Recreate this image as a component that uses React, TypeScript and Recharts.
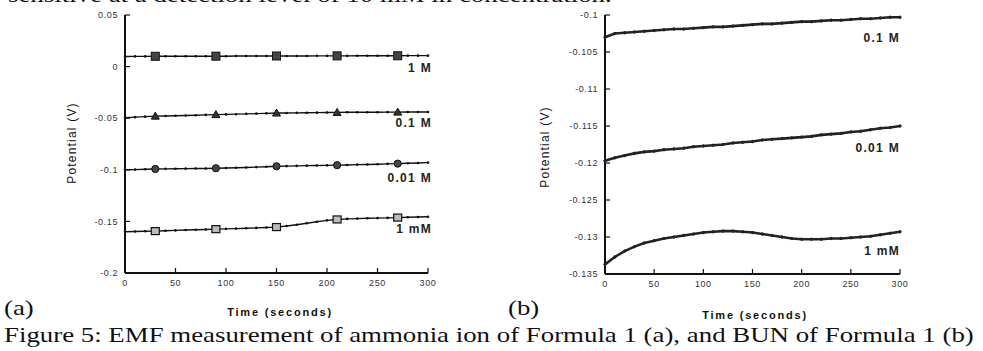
import { LineChart, Line, XAxis, YAxis, LabelList } from 'recharts';

// sample times (seconds), shared by every trace
const times = [0, 10, 20, 30, 40, 50, 60, 70, 80, 90, 100, 110, 120, 130, 140, 150, 160, 170, 180, 190, 200, 210, 220, 230, 240, 250, 260, 270, 280, 290, 300];
const majorTimes = [30, 90, 150, 210, 270];
const xTicks = [0, 50, 100, 150, 200, 250, 300];

// (a) ammonia ion
const aTicks = [0.05, 0, -0.05, -0.1, -0.15, -0.2];
const a1M = [0.0098, 0.0099, 0.0099, 0.01, 0.01, 0.01, 0.01, 0.0101, 0.0101, 0.0101, 0.0101, 0.0102, 0.0102, 0.0102, 0.0102, 0.0103, 0.0103, 0.0103, 0.0103, 0.0104, 0.0104, 0.0104, 0.0104, 0.0105, 0.0105, 0.0105, 0.0105, 0.0105, 0.0106, 0.0106, 0.0106];
const a01M = [-0.0495, -0.049, -0.0485, -0.048, -0.0478, -0.0476, -0.0474, -0.0471, -0.0468, -0.0465, -0.0463, -0.0461, -0.0458, -0.0456, -0.0453, -0.045, -0.0449, -0.0448, -0.0447, -0.0446, -0.0445, -0.0444, -0.0443, -0.0443, -0.0442, -0.0442, -0.0441, -0.0441, -0.044, -0.044, -0.044];
const a001M = [-0.1, -0.0998, -0.0995, -0.0992, -0.0991, -0.099, -0.0989, -0.0988, -0.0987, -0.0985, -0.0983, -0.098, -0.0977, -0.0974, -0.097, -0.0966, -0.0964, -0.0962, -0.096, -0.0958, -0.0957, -0.0955, -0.0953, -0.095, -0.0948, -0.0946, -0.0943, -0.094, -0.0937, -0.0934, -0.093];
const a1mM = [-0.16, -0.1598, -0.1596, -0.1594, -0.159, -0.1587, -0.1584, -0.1581, -0.1578, -0.1575, -0.1572, -0.157, -0.1567, -0.1563, -0.1559, -0.1555, -0.1545, -0.1532, -0.1518, -0.1503, -0.149, -0.1481, -0.1476, -0.1473, -0.147, -0.1468, -0.1466, -0.1463, -0.146, -0.1457, -0.1455];

// (b) BUN
const bTicks = [-0.1, -0.105, -0.11, -0.115, -0.12, -0.125, -0.13, -0.135];
const b01M = [-0.103, -0.1025, -0.1024, -0.1023, -0.1022, -0.1021, -0.102, -0.1019, -0.1019, -0.1018, -0.1017, -0.1016, -0.1016, -0.1015, -0.1014, -0.1013, -0.1012, -0.1012, -0.1011, -0.101, -0.1009, -0.1009, -0.1008, -0.1007, -0.1007, -0.1006, -0.1005, -0.1005, -0.1004, -0.1003, -0.1003];
const b001M = [-0.1197, -0.1193, -0.119, -0.1187, -0.1185, -0.1184, -0.1182, -0.1181, -0.118, -0.1178, -0.1177, -0.1176, -0.1175, -0.1173, -0.1172, -0.1171, -0.1169, -0.1168, -0.1167, -0.1166, -0.1165, -0.1164, -0.1162, -0.1161, -0.116, -0.1158, -0.1157, -0.1155, -0.1153, -0.1152, -0.115];
const b1mM = [-0.1337, -0.1327, -0.1319, -0.1313, -0.1308, -0.1305, -0.1302, -0.13, -0.1298, -0.1296, -0.1294, -0.1293, -0.1292, -0.1292, -0.1293, -0.1294, -0.1296, -0.1298, -0.13, -0.1302, -0.1303, -0.1303, -0.1303, -0.1302, -0.1302, -0.1301, -0.13, -0.1299, -0.1297, -0.1295, -0.1293];

const dataA = times.map((t, i) => ({ t, m1: a1M[i], m01: a01M[i], m001: a001M[i], mm1: a1mM[i] }));
const dataB = times.map((t, i) => ({ t, m01: b01M[i], m001: b001M[i], mm1: b1mM[i] }));

const sans = '"Liberation Sans", Arial, sans-serif';
const serif = '"Liberation Serif", "Times New Roman", serif';
const ink = '#111';
const tickStyle = { fill: '#333', fontSize: 9, fontFamily: sans, letterSpacing: 0.6 };

function makeDot(shape: string) {
  return (p: any) => {
    const { cx, cy, index, payload } = p;
    if (cx == null || cy == null) return null;
    const key = `d-${shape}-${index}`;
    if (!majorTimes.includes(payload.t)) {
      return <circle key={key} cx={cx} cy={cy} r={1.3} fill={ink} />;
    }
    if (shape === 'square') {
      return <rect key={key} x={cx - 4} y={cy - 4} width={8} height={8} fill="#444" stroke={ink} strokeWidth={1} />;
    }
    if (shape === 'triangle') {
      return <polygon key={key} points={`${cx},${cy - 4} ${cx - 4},${cy + 3} ${cx + 4},${cy + 3}`} fill="#333" stroke={ink} />;
    }
    if (shape === 'circle') {
      return <circle key={key} cx={cx} cy={cy} r={3.6} fill="#444" stroke={ink} />;
    }
    return <rect key={key} x={cx - 4} y={cy - 3.5} width={8} height={7} fill="#bbb" stroke={ink} strokeWidth={1.2} />;
  };
}

function endLabel(name: string, last: number, dy: number, dx: number) {
  return (p: any) => {
    if (p.index !== last) return null;
    const x = p.x ?? p.viewBox?.x;
    const y = p.y ?? p.viewBox?.y;
    if (x == null || y == null) return null;
    return (
      <text key={`lbl-${name}`} x={x + dx} y={y + dy} textAnchor="end" dominantBaseline="middle"
        fontFamily={sans} fontSize={12} fontWeight="bold" letterSpacing={1.3} fill="#222">
        {name}
      </text>
    );
  };
}

const lastIdx = times.length - 1;

function ChartA() {
  return (
    <LineChart width={450} height={300} data={dataA} margin={{ top: 15, right: 22, bottom: 7, left: 65 }}>
      <XAxis dataKey="t" type="number" domain={[0, 300]} ticks={xTicks} height={20}
        tick={tickStyle} tickSize={-5} tickMargin={12}
        axisLine={{ stroke: ink, strokeWidth: 2 }} tickLine={{ stroke: ink, strokeWidth: 1.2 }} />
      <YAxis type="number" domain={[-0.2, 0.05]} ticks={aTicks} width={60} allowDataOverflow
        tick={tickStyle} tickSize={-5} tickMargin={12}
        axisLine={{ stroke: ink, strokeWidth: 2 }} tickLine={{ stroke: ink, strokeWidth: 1.2 }} />
      <Line dataKey="m1" stroke={ink} strokeWidth={1.4} dot={makeDot('square')} isAnimationActive={false}>
        <LabelList content={endLabel('1 M', lastIdx, 13, 4)} />
      </Line>
      <Line dataKey="m01" stroke={ink} strokeWidth={1.4} dot={makeDot('triangle')} isAnimationActive={false}>
        <LabelList content={endLabel('0.1 M', lastIdx, 12, 4)} />
      </Line>
      <Line dataKey="m001" stroke={ink} strokeWidth={1.4} dot={makeDot('circle')} isAnimationActive={false}>
        <LabelList content={endLabel('0.01 M', lastIdx, 16, 4)} />
      </Line>
      <Line dataKey="mm1" stroke={ink} strokeWidth={1.4} dot={makeDot('open')} isAnimationActive={false}>
        <LabelList content={endLabel('1 mM', lastIdx, 13, 4)} />
      </Line>
    </LineChart>
  );
}

function ChartB() {
  const traceDot = { r: 1.2, fill: '#222', stroke: '#222', strokeWidth: 1 };
  return (
    <LineChart width={440} height={300} data={dataB} margin={{ top: 15, right: 20, bottom: 6, left: 65 }}>
      <XAxis dataKey="t" type="number" domain={[0, 300]} ticks={xTicks} height={20}
        tick={tickStyle} tickSize={-5} tickMargin={12}
        axisLine={{ stroke: ink, strokeWidth: 2 }} tickLine={{ stroke: ink, strokeWidth: 1.2 }} />
      <YAxis type="number" domain={[-0.135, -0.1]} ticks={bTicks} width={60} allowDataOverflow
        tick={tickStyle} tickSize={-5} tickMargin={12}
        axisLine={{ stroke: ink, strokeWidth: 2 }} tickLine={{ stroke: ink, strokeWidth: 1.2 }} />
      <Line dataKey="m01" stroke="#222" strokeWidth={2.6} dot={traceDot} isAnimationActive={false}>
        <LabelList content={endLabel('0.1 M', lastIdx, 22, 0)} />
      </Line>
      <Line dataKey="m001" stroke="#222" strokeWidth={2.6} dot={traceDot} isAnimationActive={false}>
        <LabelList content={endLabel('0.01 M', lastIdx, 23, 0)} />
      </Line>
      <Line dataKey="mm1" stroke="#222" strokeWidth={2.6} dot={traceDot} isAnimationActive={false}>
        <LabelList content={endLabel('1 mM', lastIdx, 20, 0)} />
      </Line>
    </LineChart>
  );
}

const abs = (left: number, top: number): any => ({ position: 'absolute', left, top });
const wide = { transform: 'scaleX(1.22)', transformOrigin: '0 0', whiteSpace: 'nowrap' as const, lineHeight: 1.1 };

export default function App() {
  return (
    <div style={{ position: 'fixed', left: 0, top: 0, width: 983, height: 351, overflow: 'hidden', background: '#fff', color: '#111' }}>
      <div style={{ ...abs(8, -17), ...wide, fontFamily: serif, fontSize: 22 }}>
        sensitive at a detection level of 10 mM in concentration.
      </div>
      <div style={abs(0, 0)}><ChartA /></div>
      <div style={abs(480, 0)}><ChartB /></div>

      <div style={{ ...abs(72, 143), transform: 'translate(-50%, -50%) rotate(-90deg)', fontFamily: sans, fontSize: 12, letterSpacing: 1.2, whiteSpace: 'nowrap' }}>
        Potential (V)
      </div>
      <div style={{ ...abs(545, 147), transform: 'translate(-50%, -50%) rotate(-90deg)', fontFamily: sans, fontSize: 12, letterSpacing: 1.2, whiteSpace: 'nowrap' }}>
        Potential (V)
      </div>

      <div style={{ ...abs(280, 312), transform: 'translate(-50%, -50%)', fontFamily: sans, fontSize: 11, fontWeight: 'bold', letterSpacing: 1.8, whiteSpace: 'nowrap', lineHeight: 1 }}>
        Time (seconds)
      </div>
      <div style={{ ...abs(755, 315), transform: 'translate(-50%, -50%)', fontFamily: sans, fontSize: 11, fontWeight: 'bold', letterSpacing: 1.8, whiteSpace: 'nowrap', lineHeight: 1 }}>
        Time (seconds)
      </div>

      <div style={{ ...abs(4, 296), ...wide, fontFamily: serif, fontSize: 22 }}>(a)</div>
      <div style={{ ...abs(508, 296), ...wide, fontFamily: serif, fontSize: 22 }}>(b)</div>

      <div style={{ ...abs(4, 323), ...wide, fontFamily: serif, fontSize: 22 }}>
        Figure 5: EMF measurement of ammonia ion of Formula 1 (a), and BUN of Formula 1 (b)
      </div>
    </div>
  );
}
